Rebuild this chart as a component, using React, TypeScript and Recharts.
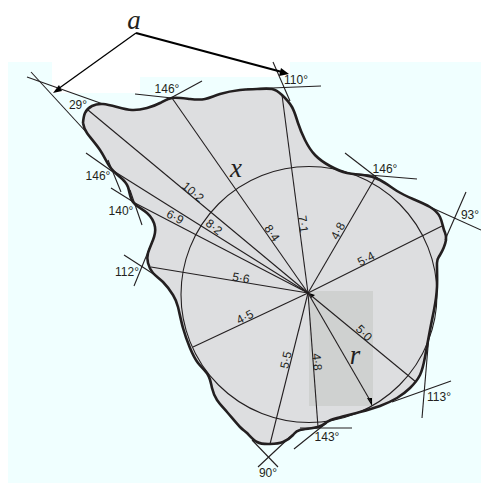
import { ComposedChart, Area, Line, Scatter, XAxis, YAxis, ReferenceDot } from 'recharts';

type Pt = { x: number; y: number };
const toPts = (list: number[][]): Pt[] => list.map(([x, y]) => ({ x, y }));

const backdrop = toPts([[8, 62], [52, 62], [52, 93], [140, 93], [140, 77], [290, 77], [290, 62], [481, 62], [481, 483], [8, 483], [8, 62]]);
const shadeBox = toPts([[309, 291], [373, 291], [373, 406], [309, 406], [309, 291]]);

const outline = toPts([
  [83, 123], [85, 113], [92, 106], [103, 104], [117, 107], [132, 110], [147, 108], [160, 103], [172, 98],
  [190, 99], [205, 99], [220, 94], [240, 90], [257, 89], [272, 89], [282, 95], [292, 107], [298, 123],
  [305, 140], [315, 155], [330, 166], [347, 173], [363, 175], [380, 180], [397, 191], [413, 199], [430, 207],
  [440, 217], [444, 230], [446, 240], [440, 255], [437, 263], [437, 287], [434, 310], [430, 330], [425, 357],
  [420, 375], [410, 388], [397, 398], [380, 406], [360, 412], [337, 418], [327, 422], [318, 427], [300, 430],
  [293, 435], [283, 442], [270, 444], [257, 442], [247, 433], [240, 427], [227, 412], [217, 400], [212, 388],
  [208, 375], [198, 363], [190, 348], [183, 328], [178, 307], [173, 295], [163, 282], [153, 273], [148, 263],
  [148, 253], [153, 240], [155, 227], [147, 213], [133, 202], [128, 187], [120, 177], [110, 167], [100, 150],
  [87, 133], [83, 123],
]);

const hub = [308, 293];
const spokeEnds = [
  [88, 110], [112, 170], [133, 202], [172, 98], [282, 95], [375, 178], [442, 226],
  [416, 382], [371, 402], [318, 427], [270, 444], [193, 347], [151, 267],
];
const tangents = [
  [[27, 77], [103, 104]], [[31, 72], [87, 133]],
  [[135, 94], [172, 98]], [[202, 81], [167, 100]],
  [[273, 62], [290, 101]], [[321, 86], [247, 89]],
  [[345, 153], [380, 180]], [[417, 179], [345, 173]],
  [[466, 192], [445, 240]], [[481, 230], [430, 207]],
  [[451, 381], [392, 402]], [[422, 418], [429, 335]],
  [[352, 428], [300, 428]], [[294, 449], [330, 420]],
  [[258, 467], [290, 437]], [[278, 467], [252, 440]],
  [[124, 255], [155, 275]], [[134, 286], [150, 247]],
  [[86, 153], [113, 172]], [[121, 192], [108, 160]],
  [[111, 188], [135, 203]], [[142, 225], [130, 190]],
];
const thinArrow = toPts([[136, 33], [58, 89]]);
const thickArrow = toPts([[136, 33], [282, 72]]);
const arrowHeads = [
  [[53, 93], [59, 85], [62, 91], [53, 93]],
  [[289, 74], [281, 68], [279, 76], [289, 74]],
  [[372, 406], [367, 398], [372, 398], [372, 406]],
  [[309, 293], [311, 298], [315, 295], [309, 293]],
];

const numbers = [
  { text: '10·2', x: 193, y: 192, angle: 40 },
  { text: '8·2', x: 214, y: 227, angle: 38 },
  { text: '6·9', x: 175, y: 217, angle: 28 },
  { text: '8·4', x: 272, y: 233, angle: 55 },
  { text: '7·1', x: 303, y: 224, angle: 83 },
  { text: '4·8', x: 338, y: 231, angle: -62 },
  { text: '5·4', x: 366, y: 259, angle: -28 },
  { text: '5·0', x: 364, y: 333, angle: 45 },
  { text: '4·8', x: 317, y: 362, angle: 85 },
  { text: '5·5', x: 286, y: 360, angle: -77 },
  { text: '4·5', x: 245, y: 317, angle: -27 },
  { text: '5·6', x: 241, y: 278, angle: 10 },
];
const degrees = [
  { text: '29°', x: 78, y: 105 },
  { text: '146°', x: 167, y: 89 },
  { text: '110°', x: 296, y: 80 },
  { text: '146°', x: 385, y: 169 },
  { text: '93°', x: 470, y: 215 },
  { text: '146°', x: 98, y: 176 },
  { text: '140°', x: 121, y: 211 },
  { text: '112°', x: 127, y: 272 },
  { text: '113°', x: 439, y: 397 },
  { text: '143°', x: 327, y: 437 },
  { text: '90°', x: 268, y: 473 },
];
const symbols = [
  { text: 'a', x: 134, y: 20 },
  { text: 'x', x: 236, y: 168 },
  { text: 'r', x: 355, y: 355 },
];

const INK = '#231f20';

function NumberLabel(p: any) {
  const d = p.payload;
  return (
    <text x={p.cx} y={p.cy} transform={`rotate(${d.angle ?? 0} ${p.cx} ${p.cy})`} textAnchor="middle" dominantBaseline="central"
      fontFamily="'Liberation Sans'" fontSize={12} fill={INK}>{d.text}</text>
  );
}
function SymbolLabel(p: any) {
  return (
    <text x={p.cx} y={p.cy} textAnchor="middle" dominantBaseline="central"
      fontFamily="'Liberation Serif'" fontStyle="italic" fontSize={27} fill={INK}>{p.payload.text}</text>
  );
}

export default function App() {
  return (
    <div style={{ position: 'absolute', left: 0, top: 0, width: 481, height: 483, background: '#fff' }}>
      <ComposedChart width={481} height={483} margin={{ top: 0, right: 0, bottom: 0, left: 0 }}>
        <XAxis type="number" dataKey="x" domain={[0, 481]} hide />
        <YAxis type="number" dataKey="y" domain={[0, 483]} reversed hide />

        <Area data={backdrop} dataKey="y" type="linear" fill="#f0ffff" fillOpacity={1} stroke="none" activeDot={false} isAnimationActive={false} />
        <Area data={outline} dataKey="y" type="natural" fill="#dddee0" fillOpacity={1} stroke="none" activeDot={false} isAnimationActive={false} />
        <Area data={shadeBox} dataKey="y" type="linear" fill="#cfd1d0" fillOpacity={1} stroke="none" activeDot={false} isAnimationActive={false} />

        <ReferenceDot x={309} y={294.5} r={128} fill="none" stroke={INK} strokeWidth={1.1} ifOverflow="visible" />

        {spokeEnds.map((end, i) => (
          <Line key={`spoke-${i}`} data={toPts([hub, end])} dataKey="y" type="linear" stroke={INK} strokeWidth={1.1} dot={false} activeDot={false} isAnimationActive={false} />
        ))}
        {tangents.map((seg, i) => (
          <Line key={`tangent-${i}`} data={toPts(seg)} dataKey="y" type="linear" stroke={INK} strokeWidth={1.1} dot={false} activeDot={false} isAnimationActive={false} />
        ))}
        <Line data={outline} dataKey="y" type="natural" stroke={INK} strokeWidth={2.6} dot={false} activeDot={false} isAnimationActive={false} />
        <Line data={thinArrow} dataKey="y" type="linear" stroke="#000" strokeWidth={1.3} dot={false} activeDot={false} isAnimationActive={false} />
        <Line data={thickArrow} dataKey="y" type="linear" stroke="#000" strokeWidth={2.2} dot={false} activeDot={false} isAnimationActive={false} />
        {arrowHeads.map((head, i) => (
          <Area key={`head-${i}`} data={toPts(head)} dataKey="y" type="linear" fill="#000" fillOpacity={1} stroke="none" activeDot={false} isAnimationActive={false} />
        ))}

        <Scatter data={numbers} shape={NumberLabel} isAnimationActive={false} />
        <Scatter data={degrees} shape={NumberLabel} isAnimationActive={false} />
        <Scatter data={symbols} shape={SymbolLabel} isAnimationActive={false} />
      </ComposedChart>
    </div>
  );
}
